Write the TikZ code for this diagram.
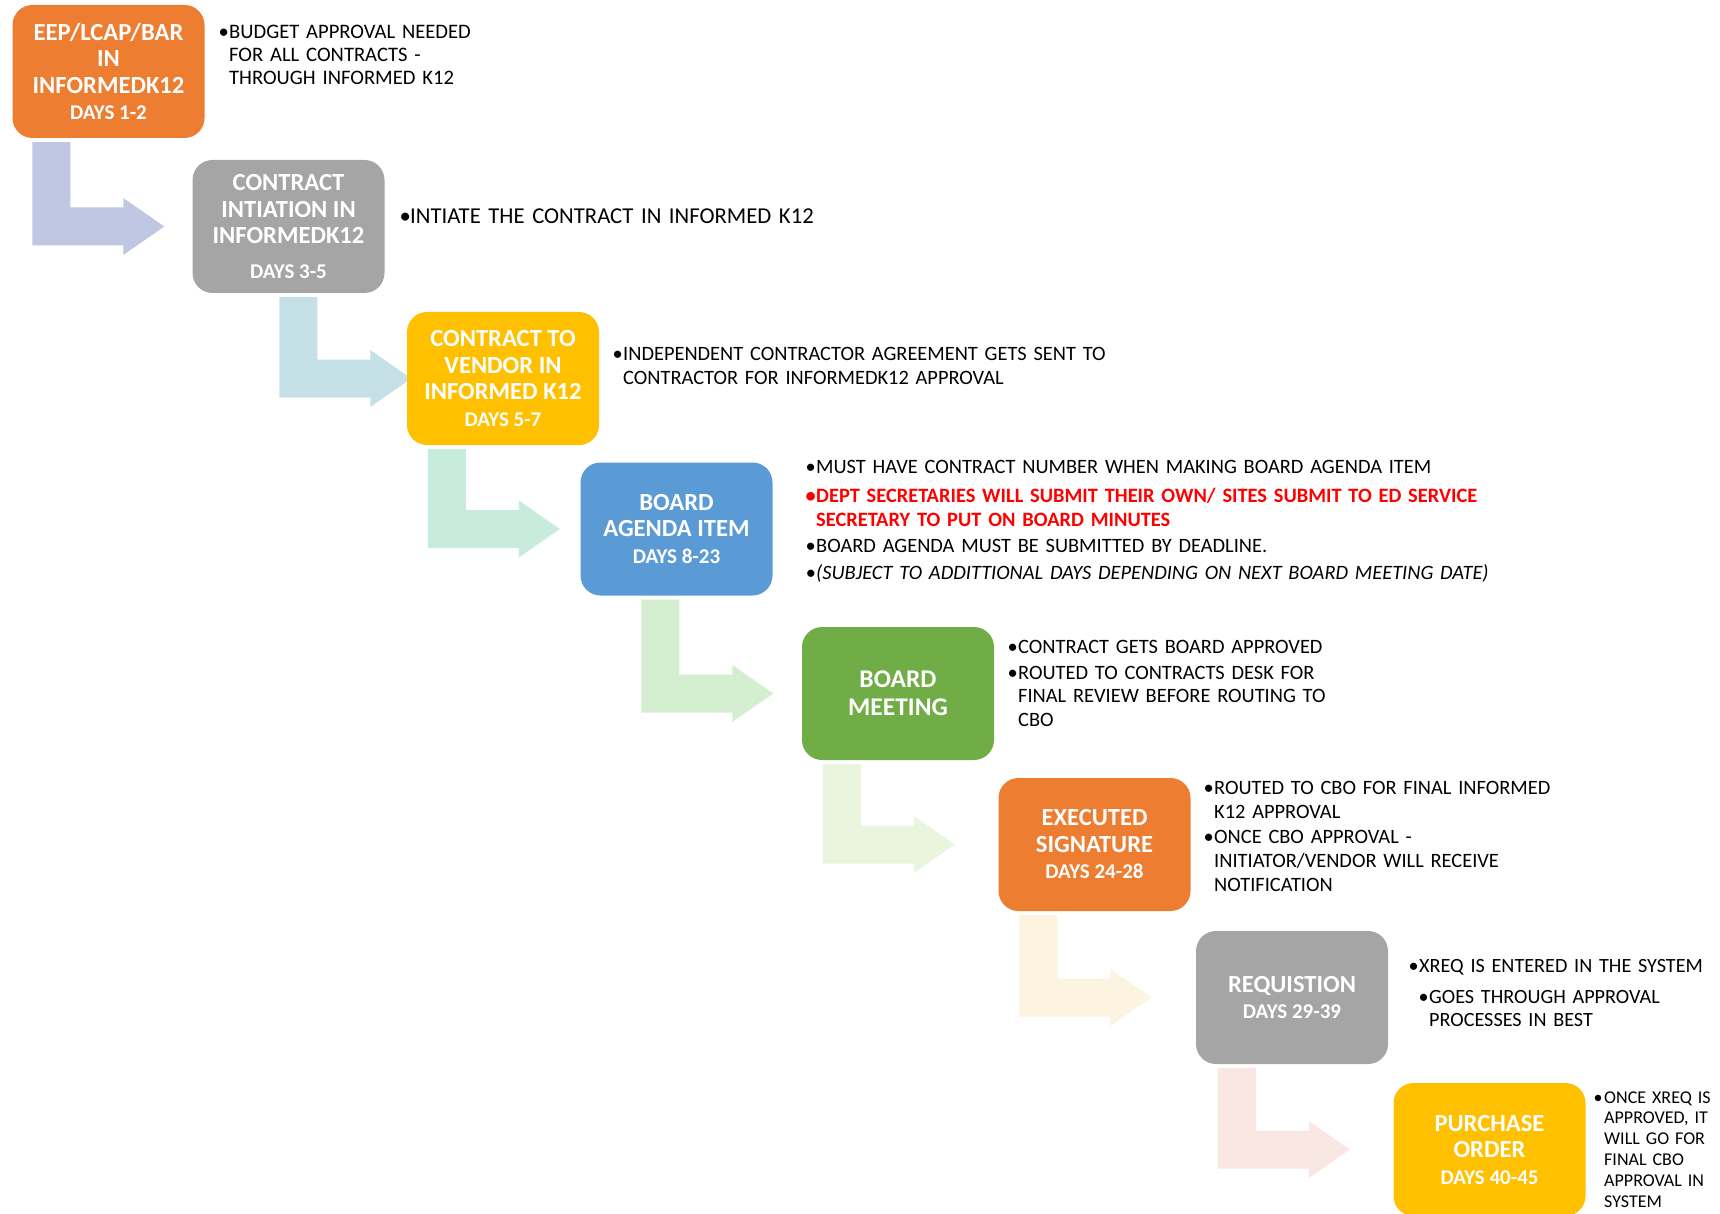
\documentclass[tikz,border=0pt]{standalone}
\usepackage{fontspec}
\setmainfont{Carlito}
\usetikzlibrary{calc,backgrounds}

\definecolor{stepOrange}{HTML}{ED7D31}
\definecolor{stepGray}{HTML}{A5A5A5}
\definecolor{stepGold}{HTML}{FFC000}
\definecolor{stepBlue}{HTML}{5B9BD5}
\definecolor{stepGreen}{HTML}{70AD47}
\definecolor{arrowA}{HTML}{BFC7E3}
\definecolor{arrowB}{HTML}{C5E1E7}
\definecolor{arrowC}{HTML}{C7EBDC}
\definecolor{arrowD}{HTML}{D4EFD0}
\definecolor{arrowE}{HTML}{EAF5DD}
\definecolor{arrowF}{HTML}{FCF3E1}
\definecolor{arrowG}{HTML}{F9E7E3}

% one bullet paragraph, later lines hang under the text
\newcommand\bpt[2][]{{#1\hangindent=8pt\hangafter=1\makebox[8pt][l]{\hspace{-2.5pt}\textbullet}#2\par}}
\newcommand\dayspan[1]{{\fontsize{21}{24}\selectfont #1}}

\begin{document}
\begin{tikzpicture}[x=1pt,y=-1pt,
    box/.style={rounded corners=20pt,minimum width=192pt,minimum height=133pt,inner sep=2pt,
      text=white,align=center,font=\fontsize{24.6}{26.5}\selectfont\bfseries},
    note/.style={anchor=base west,inner sep=0pt,text width=760pt,font=\fontsize{20.4}{23.5}\selectfont}]
  \useasboundingbox (0,0) rectangle (1720,1214);

  % steps
  \draw (108.5,71.5) node [box,fill=stepOrange] (eep) {EEP/LCAP/BAR\\IN\\INFORMEDK12\\\dayspan{DAYS 1-2}};
  \draw (288.5,226.5) node [box,fill=stepGray] (initiation) {CONTRACT\\INTIATION IN\\INFORMEDK12\\[8pt]\dayspan{DAYS 3-5}};
  \draw (503,378.5) node [box,fill=stepGold] (vendor) {CONTRACT TO\\VENDOR IN\\INFORMED K12\\\dayspan{DAYS 5-7}};
  \draw (676.5,529) node [box,fill=stepBlue] (agenda) {BOARD\\AGENDA ITEM\\\dayspan{DAYS 8-23}};
  \draw (898,693.5) node [box,fill=stepGreen,font=\fontsize{25.5}{28}\selectfont\bfseries] (meeting) {BOARD\\MEETING};
  \draw (1094.5,844.5) node [box,fill=stepOrange] (signature) {EXECUTED\\SIGNATURE\\\dayspan{DAYS 24-28}};
  \draw (1292,997.5) node [box,fill=stepGray] (requisition) {REQUISTION\\\dayspan{DAYS 29-39}};
  \draw (1489.5,1149.5) node [box,fill=stepGold] (purchase) {PURCHASE\\ORDER\\\dayspan{DAYS 40-45}};

  % notes
  \node [note,font=\fontsize{20.6}{23}\selectfont] (budgetnote) at (221,39)
    {\bpt{BUDGET APPROVAL NEEDED\newline FOR ALL CONTRACTS -\newline THROUGH INFORMED K12}};
  \node [note,font=\fontsize{22.7}{27}\selectfont] (initiatenote) at (402,224)
    {\bpt{INTIATE THE CONTRACT IN INFORMED K12}};
  \node [note,font=\fontsize{20.4}{24}\selectfont] (vendornote) at (615,360)
    {\bpt{INDEPENDENT CONTRACTOR AGREEMENT GETS SENT TO\newline CONTRACTOR FOR INFORMEDK12 APPROVAL}};
  \node [note] (agendanote) at (808,473)
    {\setlength\parskip{3pt}%
     \bpt{MUST HAVE CONTRACT NUMBER WHEN MAKING BOARD AGENDA ITEM}\vspace{3pt}
     \bpt[\color{red}\bfseries]{DEPT SECRETARIES WILL SUBMIT THEIR OWN/ SITES SUBMIT TO ED SERVICE\newline SECRETARY TO PUT ON BOARD MINUTES}
     \bpt{BOARD AGENDA MUST BE SUBMITTED BY DEADLINE.}
     \bpt[\itshape]{(SUBJECT TO ADDITTIONAL DAYS DEPENDING ON NEXT BOARD MEETING DATE)}};
  \node [note] (meetingnote) at (1010,653)
    {\setlength\parskip{2.5pt}%
     \bpt{CONTRACT GETS BOARD APPROVED}
     \bpt{ROUTED TO CONTRACTS DESK FOR\newline FINAL REVIEW BEFORE ROUTING TO\newline CBO}};
  \node [note,font=\fontsize{20.4}{24}\selectfont] (signaturenote) at (1206,794)
    {\setlength\parskip{1pt}%
     \bpt{ROUTED TO CBO FOR FINAL INFORMED\newline K12 APPROVAL}
     \bpt{ONCE CBO APPROVAL -\newline INITIATOR/VENDOR WILL RECEIVE\newline NOTIFICATION}};
  \node [note,font=\fontsize{20.2}{23}\selectfont] (requisitionnote) at (1411,972)
    {\setlength\parskip{8pt}%
     \bpt{XREQ IS ENTERED IN THE SYSTEM}
     \bpt[\leftskip=10pt]{GOES THROUGH APPROVAL\newline PROCESSES IN BEST}};
  \node [note,font=\fontsize{18}{20.8}\selectfont] (purchasenote) at (1596,1103)
    {\bpt{ONCE XREQ IS\newline APPROVED, IT\newline WILL GO FOR\newline FINAL CBO\newline APPROVAL IN\newline SYSTEM}};

  % bent arrows between the steps
  \begin{pgfonlayer}{background}
    \foreach \a/\b/\dx/\c in {eep/initiation/20pt/arrowA, initiation/vendor/87pt/arrowB,
        vendor/agenda/21pt/arrowC, agenda/meeting/61pt/arrowD, meeting/signature/21pt/arrowE,
        signature/requisition/21pt/arrowF, requisition/purchase/22pt/arrowG}
      \fill[\c] let \p1 = (\a.south west), \p2 = (\b.west) in
        (\x1+\dx,\y1-4pt) -- (\x1+\dx+38pt,\y1-4pt) -- (\x1+\dx+38pt,\y2+19pt)
        -- (\x1+\dx+91pt,\y2+19pt) -- (\x1+\dx+91pt,\y2+28.5pt) -- (\x1+\dx+132pt,\y2)
        -- (\x1+\dx+91pt,\y2-28.5pt) -- (\x1+\dx+91pt,\y2-19pt) -- (\x1+\dx,\y2-19pt) -- cycle;
  \end{pgfonlayer}
\end{tikzpicture}
\end{document}
